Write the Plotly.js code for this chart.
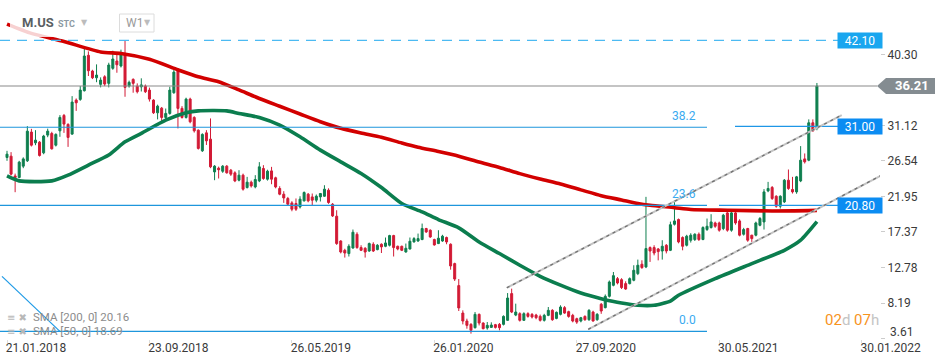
<!DOCTYPE html>
<html>
<head>
<meta charset="utf-8">
<script src="https://cdn.plot.ly/plotly-3.0.1.min.js"></script>
<style>html,body{margin:0;padding:0;background:#fff;}#chart{width:950px;height:364px;}</style>
</head>
<body>
<div id="chart"></div>
<script>
// ---- DATA (weekly candles, M.US, W1, first week = 21.01.2018) ----
const open = [26.98,27.15,24.60,24.40,25.86,26.55,30.26,28.87,28.96,27.58,29.87,30.08,28.57,30.42,32.41,31.25,30.00,34.39,34.48,35.60,
40.17,38.14,37.27,36.42,37.40,36.55,38.49,39.43,38.79,40.42,36.20,37.06,36.20,36.10,36.20,35.68,34.39,32.75,33.35,32.15,
32.67,35.34,38.18,33.32,32.15,34.52,32.15,30.51,27.84,30.16,29.35,25.12,25.60,25.20,25.86,25.34,25.00,24.05,24.70,23.10,
23.79,23.18,23.96,25.56,24.18,25.25,24.36,22.98,22.24,21.69,21.12,21.04,20.60,21.38,22.24,21.89,21.47,21.89,21.98,22.76,
20.95,19.40,16.20,15.00,14.58,15.30,17.07,15.35,15.26,14.91,15.78,15.09,15.78,15.52,15.65,16.90,15.52,15.52,14.78,15.17,
16.08,16.20,16.39,17.81,17.59,16.39,15.87,16.20,16.65,15.78,13.28,10.44,6.90,5.87,5.44,5.01,6.73,5.61,4.97,5.05,
5.40,5.44,5.44,5.96,9.41,6.64,6.82,5.96,6.82,6.73,6.64,6.47,5.96,6.60,7.25,6.21,6.73,7.60,7.08,6.60,
6.17,5.87,6.47,6.04,7.03,6.04,8.03,7.60,9.06,10.48,11.34,11.21,10.70,10.70,11.13,11.99,13.20,12.85,15.35,15.35,
15.17,14.91,15.65,15.00,18.36,18.97,16.65,15.65,16.30,16.39,17.07,16.39,17.68,17.94,18.53,18.53,17.81,19.83,17.59,19.83,
18.79,17.07,17.81,16.95,16.95,18.23,18.66,22.67,23.11,21.98,20.69,21.25,24.05,22.85,22.54,23.96,26.80,26.63,31.46,30.73];
const high = [27.84,27.67,24.90,26.55,27.00,31.03,30.68,30.51,29.10,29.90,30.70,30.30,30.10,32.45,32.60,31.40,34.90,34.60,36.20,41.37,
40.68,38.30,39.00,37.32,37.60,39.21,40.76,40.50,40.90,42.10,36.90,37.20,36.55,37.20,36.40,36.00,34.50,33.80,33.50,33.30,
36.11,38.27,38.40,33.61,34.70,34.70,32.30,30.60,30.10,30.51,32.02,26.00,25.80,26.00,26.00,25.50,25.20,25.34,24.90,24.48,
24.00,24.70,26.38,25.99,25.40,25.77,24.50,23.27,22.63,21.89,21.34,21.69,21.98,22.60,22.40,22.33,22.20,22.40,23.40,23.00,
21.10,20.17,16.30,15.20,15.78,17.68,17.33,15.65,15.40,16.00,16.04,15.80,15.90,16.65,17.00,17.00,15.60,15.60,15.87,16.65,
16.70,17.16,18.45,17.90,17.70,16.50,17.59,17.00,16.77,15.90,13.40,11.29,7.25,6.17,5.60,7.03,6.85,5.70,5.74,5.70,
5.50,5.61,6.60,9.48,10.05,8.11,7.00,7.00,7.00,6.90,6.80,6.70,6.80,7.68,7.40,7.10,7.90,7.80,7.20,6.80,
6.30,6.40,6.60,7.40,7.20,6.90,8.20,9.30,11.10,12.20,11.55,11.40,11.00,11.50,13.07,13.80,13.71,21.90,15.50,15.65,
15.30,16.30,15.80,18.70,21.47,19.10,16.80,17.00,17.20,17.20,17.30,18.10,19.10,19.66,18.70,18.70,19.70,20.00,20.00,20.20,
19.00,17.90,17.90,17.00,18.70,19.30,22.90,23.83,23.30,22.10,22.10,24.20,25.43,24.48,24.60,28.45,27.50,31.90,31.90,36.60];
const low = [26.55,24.66,22.50,24.30,25.60,26.40,28.40,28.57,27.10,27.40,29.60,28.00,28.40,29.65,30.16,28.35,29.90,33.00,34.30,35.50,
37.50,37.10,36.70,36.03,36.20,36.03,38.30,37.92,38.60,34.82,36.00,35.34,35.25,35.50,35.30,34.20,32.60,31.90,31.59,31.80,
32.50,35.20,30.73,32.00,32.00,31.40,30.20,28.00,27.70,28.60,25.60,24.05,24.27,25.00,24.90,24.60,23.80,23.90,22.70,22.98,
23.10,23.00,23.80,24.10,24.00,23.53,23.00,22.11,21.12,20.82,20.04,20.08,20.40,21.30,21.20,20.82,21.20,21.30,21.90,21.00,
19.30,15.70,14.60,14.06,14.20,15.20,15.20,14.90,14.06,14.80,14.78,15.00,14.65,15.40,15.50,14.20,15.00,14.90,14.70,15.10,
16.00,16.10,16.30,17.24,16.60,15.60,15.80,16.10,15.78,12.50,11.04,7.16,5.44,4.88,4.24,4.90,5.30,4.80,4.75,5.00,
4.90,4.67,5.30,5.90,6.90,6.50,5.80,5.90,6.30,6.20,6.10,5.80,5.80,6.50,5.90,6.10,6.60,6.80,6.30,5.70,
5.50,5.70,5.90,5.90,5.80,5.90,6.80,7.50,8.90,10.35,10.60,10.00,9.90,10.60,11.00,11.80,12.60,12.70,13.50,14.35,
13.70,13.80,14.60,14.90,18.20,15.90,15.00,15.50,16.00,16.20,16.20,16.30,17.50,17.80,17.90,17.40,17.60,17.40,17.40,18.30,
16.80,16.90,16.10,16.08,16.80,18.10,17.68,22.50,21.50,20.50,20.39,21.10,22.80,22.33,22.30,23.80,26.20,26.50,30.30,30.50];
const close = [27.41,24.83,24.40,26.38,26.80,30.38,28.57,29.22,27.24,29.74,30.38,28.10,29.96,32.15,31.29,29.57,34.13,34.04,35.68,40.08,
38.18,37.27,37.62,36.97,36.46,38.92,39.69,38.95,40.50,36.03,36.68,36.55,35.47,36.35,35.47,34.52,32.75,33.61,32.15,32.67,
35.68,38.00,33.32,32.15,34.52,31.59,30.42,28.15,29.96,29.13,25.77,25.86,25.40,25.86,25.00,24.83,23.96,24.70,22.89,23.79,
23.31,24.14,25.77,24.27,25.21,24.18,23.18,22.24,21.76,20.95,20.30,20.30,21.60,22.46,21.38,21.47,21.98,22.33,22.89,21.17,
19.44,15.87,14.78,14.65,15.52,17.33,15.35,15.00,14.78,15.87,14.91,15.65,15.44,15.95,16.90,15.35,15.17,15.00,15.26,16.17,
16.51,16.51,17.81,17.37,16.72,15.69,16.56,16.82,16.08,12.98,11.29,7.56,5.87,5.31,4.67,6.73,5.61,4.88,5.31,5.35,
5.05,5.01,6.47,8.84,7.03,7.03,5.96,6.82,6.47,6.39,6.30,5.96,6.60,7.25,6.04,6.99,7.68,6.90,6.47,5.87,
5.73,6.30,6.04,7.25,5.87,6.73,7.16,9.06,10.91,11.73,10.78,10.19,10.00,11.34,12.42,13.07,12.77,15.22,14.91,14.65,
14.83,15.52,14.91,18.30,18.79,16.08,15.52,16.82,16.95,17.07,16.39,17.94,18.10,18.66,18.10,17.59,19.53,17.59,19.83,18.53,
16.95,17.68,16.30,16.51,18.53,19.10,22.54,22.98,21.69,20.69,21.98,24.05,22.98,22.54,24.48,26.63,26.42,31.46,30.42,36.21];

// SMA readings (week index, value)
const sma200Week = [0,6,14,23,28,35,42,47,52,57,62,67,72,77,82,87,92,97,101,106,111,116,121,126,131,136,141,146,151,155,158,164,168,177,188,199];
const sma200Val  = [44.2,43.0,41.95,40.6,40.4,39.65,38.3,37.4,36.76,35.7,34.6,33.6,32.6,31.6,30.75,30.15,29.6,28.85,28.3,27.75,27.15,26.4,25.7,24.9,24.2,23.55,22.8,22.05,21.5,21.05,20.82,20.5,20.26,20.17,20.08,20.16];
const sma50Week = [0,3,11,15,20,25,29,33,39,44,47,54,57,62,67,72,77,82,87,92,97,102,106,111,116,121,126,131,136,141,146,151,155,159,163,165,174,183,191,195,199];
const sma50Val  = [24.6,23.96,23.96,24.7,26.0,27.3,29.0,30.1,31.8,32.75,33.0,33.0,32.67,32.15,31.16,29.65,27.93,26.42,24.92,23.1,21.04,19.96,18.97,17.9,16.08,14.58,13.07,11.64,10.5,9.48,8.76,8.19,7.9,7.9,8.45,9.19,11.34,13.28,15.0,16.3,18.69];

// axis labels
const xTickWeeks = [0,35,70,105,140,175,210];
const xTickText = ['21.01.2018','23.09.2018','26.05.2019','26.01.2020','27.09.2020','30.05.2021','30.01.2022'];
const yTickVals = [3.61,8.19,12.78,17.37,21.95,26.54,31.12,40.30];

// drawing levels
const fibLabels = ['0.0','23.6','38.2'];
const fibValues = [4.53,20.80,30.88];
const resistance = 42.10;
const lastPrice = 36.21;
const levelLines = [31.00, 20.80];
const fibDiagWeek = [-1.23, 13.0];
const fibDiagVal = [11.64, 4.53];
const chanUpperWeek = [122.8, 205.1], chanUpperVal = [10.16, 32.45];
const chanLowerWeek = [142.8, 214.9], chanLowerVal = [4.80, 24.70];

// ---- RENDER ----
const GREEN = '#0f7f4f', RED = '#d21a35';
const PW = 880, PH = 339;
const px = v => v / PW;         // pixel x -> paper
const py = v => 1 - v / PH;     // pixel y -> paper
const weekIdx = open.map((_, i) => i);
const FONT = 'Roboto, "Open Sans", sans-serif';

const traces = [
  {type:'candlestick', x:weekIdx, open:open, high:high, low:low, close:close,
   increasing:{line:{color:GREEN,width:1}, fillcolor:GREEN},
   decreasing:{line:{color:RED,width:1}, fillcolor:RED},
   whiskerwidth:0, hoverinfo:'skip'},
  {type:'scatter', mode:'lines', x:sma50Week, y:sma50Val,
   line:{color:'#0b7d4e', width:3.6, shape:'spline', smoothing:0.6}, hoverinfo:'skip'},
  {type:'scatter', mode:'lines', x:sma200Week, y:sma200Val,
   line:{color:'#d20000', width:3.6, shape:'spline', smoothing:0.6}, hoverinfo:'skip'}
];

const shapes = [];
// header translucent overlay
shapes.push({type:'rect', xref:'paper', yref:'paper', x0:px(10), x1:px(165), y0:py(37), y1:1,
  fillcolor:'rgba(255,255,255,0.82)', line:{width:0}, layer:'above'});
// W1 box
shapes.push({type:'rect', xref:'paper', yref:'paper', x0:px(119.5), x1:px(154), y0:py(32), y1:py(14),
  fillcolor:'#fff', line:{color:'#dcdcdc', width:1}, layer:'above'});
// resistance dashed
shapes.push({type:'line', xref:'paper', yref:'y', x0:0, x1:px(838), y0:resistance, y1:resistance,
  line:{color:'#4cbaf2', width:1.4, dash:'10px,7px'}});
// last price line
shapes.push({type:'line', xref:'paper', yref:'y', x0:0, x1:px(877), y0:lastPrice, y1:lastPrice,
  line:{color:'#8a8a8a', width:1.2}});
// fib lines
fibValues.forEach(v => shapes.push({type:'line', xref:'paper', yref:'y', x0:0, x1:px(707), y0:v, y1:v,
  line:{color:'#1e96dc', width:1.1}}));
// horizontal levels
shapes.push({type:'line', xref:'paper', yref:'y', x0:px(735), x1:px(838), y0:levelLines[0], y1:levelLines[0],
  line:{color:'#1e96e6', width:1.2}});
shapes.push({type:'line', xref:'paper', yref:'y', x0:px(719), x1:px(838), y0:levelLines[1], y1:levelLines[1],
  line:{color:'#1e96e6', width:1.2}});
// fib diagonal
shapes.push({type:'line', xref:'x', yref:'y', x0:fibDiagWeek[0], x1:fibDiagWeek[1], y0:fibDiagVal[0], y1:fibDiagVal[1],
  line:{color:'#1e9ae6', width:1.2}});
// channel
[[chanUpperWeek, chanUpperVal],[chanLowerWeek, chanLowerVal]].forEach(([w, v]) => {
  shapes.push({type:'line', xref:'x', yref:'y', x0:w[0], x1:w[1], y0:v[0], y1:v[1],
    line:{color:'#c4c4c4', width:2}});
  shapes.push({type:'line', xref:'x', yref:'y', x0:w[0], x1:w[1], y0:v[0], y1:v[1],
    line:{color:'#707070', width:1.3, dash:'3px,4px'}});
});
// last price arrow label
shapes.push({type:'path', xref:'paper', yref:'y', xsizemode:'pixel', ysizemode:'pixel',
  xanchor:px(877), yanchor:lastPrice, path:'M 0 0 L 9 8 L 58 8 L 58 -8 L 9 -8 Z',
  fillcolor:'#848c91', line:{width:0}, layer:'above'});

const ann = [];
const box = (txt, v, col) => ({xref:'paper', yref:'y', x:px(860), y:v, text:txt, showarrow:false,
  xanchor:'center', yanchor:'middle', width:44, height:15, bgcolor:col, borderpad:0,
  font:{family:FONT, size:12, color:'#fff'}});
ann.push(box('42.10', resistance, '#19a6ef'));
ann.push(box('31.00', levelLines[0], '#0b8cf2'));
ann.push(box('20.80', levelLines[1], '#0b8cf2'));
ann.push({xref:'paper', yref:'y', x:px(912), y:lastPrice, text:'<b>36.21</b>', showarrow:false,
  xanchor:'center', yanchor:'middle', font:{family:FONT, size:13, color:'#fff'}});
fibLabels.forEach((t, i) => ann.push({xref:'paper', yref:'y', x:px(698), y:fibValues[i], text:t,
  showarrow:false, xanchor:'right', yanchor:'bottom', yshift:2, font:{family:FONT, size:12, color:'#3aaaf0'}}));
// lowest y tick label, lifted above the date row as in the reference
ann.push({xref:'paper', yref:'paper', x:px(888), y:py(332), text:yTickVals[0].toFixed(2), showarrow:false,
  xanchor:'left', yanchor:'middle', font:{family:FONT, size:12, color:'#3a3a3a'}});
// header
ann.push({xref:'paper', yref:'paper', x:px(20), y:py(23), text:'<b>M.US</b>', showarrow:false,
  xanchor:'left', yanchor:'middle', font:{family:FONT, size:13, color:'#5a5f63'}});
ann.push({xref:'paper', yref:'paper', x:px(56), y:py(24), text:'<b>STC</b>', showarrow:false,
  xanchor:'left', yanchor:'middle', font:{family:FONT, size:9, color:'#8d9aa3'}});
ann.push({xref:'paper', yref:'paper', x:px(79), y:py(22), text:'▼', showarrow:false,
  xanchor:'left', yanchor:'middle', font:{family:'DejaVu Sans', size:8, color:'#bcbcbc'}});
ann.push({xref:'paper', yref:'paper', x:px(124), y:py(23), text:'W1', showarrow:false,
  xanchor:'left', yanchor:'middle', font:{family:FONT, size:12, color:'#9a9a9a'}});
ann.push({xref:'paper', yref:'paper', x:px(142), y:py(23), text:'▼', showarrow:false,
  xanchor:'left', yanchor:'middle', font:{family:'DejaVu Sans', size:8, color:'#bcbcbc'}});
// indicator legend
ann.push({xref:'paper', yref:'paper', x:px(5), y:py(317), text:'≡ ✖', showarrow:false,
  xanchor:'left', yanchor:'middle', font:{family:'DejaVu Sans', size:10, color:'#b8b8b8'}});
ann.push({xref:'paper', yref:'paper', x:px(31), y:py(317), text:'SMA [200, 0] 20.16', showarrow:false,
  xanchor:'left', yanchor:'middle', font:{family:FONT, size:11.5, color:'#8c8c8c'}});
ann.push({xref:'paper', yref:'paper', x:px(5), y:py(331), text:'≡ ✖', showarrow:false,
  xanchor:'left', yanchor:'middle', font:{family:'DejaVu Sans', size:10, color:'#b8b8b8'}});
ann.push({xref:'paper', yref:'paper', x:px(31), y:py(331), text:'SMA [50, 0] 18.69', showarrow:false,
  xanchor:'left', yanchor:'middle', font:{family:FONT, size:11.5, color:'#8c8c8c'}});
// countdown
ann.push({xref:'paper', yref:'paper', x:px(881), y:py(320), showarrow:false, xanchor:'right', yanchor:'middle',
  text:'<span style="color:#f7931e">02</span><span style="color:#c4c4c4">d</span> <span style="color:#f7931e">07</span><span style="color:#c4c4c4">h</span>',
  font:{family:FONT, size:15, color:'#f7931e'}});

const layout = {
  width:950, height:364,
  margin:{l:0, r:70, t:0, b:25, pad:0},
  paper_bgcolor:'#fff', plot_bgcolor:'#fff',
  showlegend:false, dragmode:false,
  xaxis:{type:'linear', range:[-1.72, 214.5], tickvals:xTickWeeks, ticktext:xTickText,
    ticklabelshift:29, ticklabelstandoff:-5, ticks:'outside', ticklen:3, tickcolor:'#dddddd',
    showgrid:false, zeroline:false, showline:false, rangeslider:{visible:false},
    tickfont:{family:FONT, size:12, color:'#3a3a3a'}},
  yaxis:{side:'right', range:[3.55, 47.31], tickvals:yTickVals,
    ticktext:yTickVals.map((v, i) => i === 0 ? '' : v.toFixed(2)),
    ticks:'outside', ticklen:4, tickcolor:'#cccccc', showgrid:false, zeroline:false, showline:false,
    tickfont:{family:FONT, size:12, color:'#3a3a3a'}},
  shapes:shapes, annotations:ann
};
Plotly.newPlot('chart', traces, layout, {staticPlot:true, displayModeBar:false});
</script>
</body>
</html>
